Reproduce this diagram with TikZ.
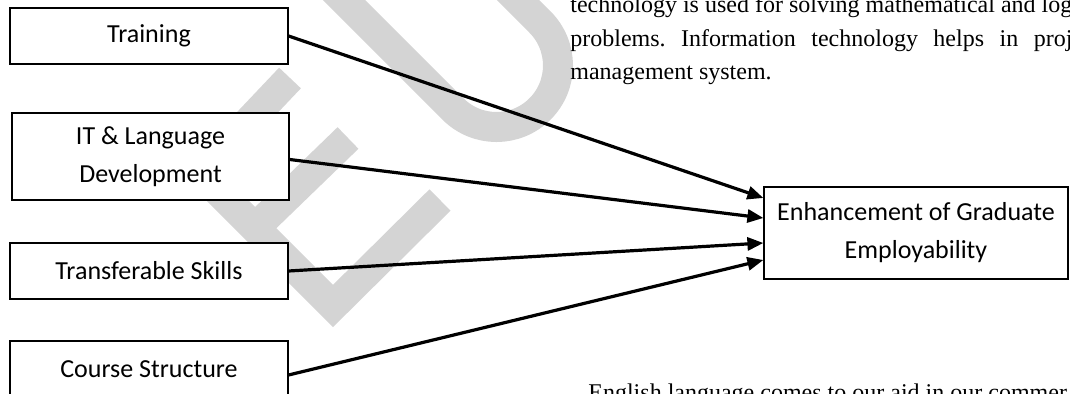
\documentclass[tikz,border=0pt]{standalone}
\usepackage{fontspec}
\setmainfont{Liberation Serif}
\newfontfamily\boxfont{Carlito}
\usetikzlibrary{arrows.meta}
\tikzset{
  factor/.style={draw, fill=white, line width=0.6pt, align=center,
    font=\boxfont\fontsize{13}{19}\selectfont, inner sep=0pt},
  link/.style={line width=1.6pt, -{Triangle[length=8pt,width=6.5pt]}},
  wmark/.style={line width=15pt, draw=black!17, line join=miter},
  para/.style={anchor=base west, inner sep=0pt, font=\fontsize{12}{14}\selectfont}
}
\frenchspacing
\begin{document}
\begin{tikzpicture}[x=0.5pt,y=-0.5pt]
  \useasboundingbox (0,0) rectangle (1070,394);
  \clip (0,0) rectangle (1070,394);
  % watermark
  \draw [wmark] (290,78)--(200,173)--(333,306)--(440,200);
  \draw [wmark] (255,228)--(348,138);
  \draw [wmark] (314,-30)--(453,109) arc[start angle=135,end angle=-45,radius=61.5]--(488,-30);
  % page text
  \node [para] (line1) at (570,13) {technology is used for solving mathematical and log};
  \node [para] (line2) at (570,47) {\makebox[251pt][s]{problems. Information technology helps in proj}};
  \node [para] (line3) at (570,80) {management system.};
  \node [para] (line4) at (588,401) {English language comes to our aid in our commer};
  % factors
  \node [factor, minimum width=139pt, minimum height=28pt] (train) at (149,36) {Training};
  \node [factor, minimum width=138.5pt, minimum height=43.5pt] (itlang) at (150.5,156.5) {IT \& Language\\Development};
  \node [factor, minimum width=139pt, minimum height=28pt] (skills) at (149,271) {Transferable Skills};
  \node [factor, minimum width=139pt, minimum height=28pt] (course) at (149,369) {Course Structure};
  \node [factor, minimum width=152pt, minimum height=46pt] (target) at (916,233) {Enhancement of Graduate\\Employability};
  % links
  \draw [link] (train.east) -- ([yshift=17.5pt]target.west);
  \draw [link] ([yshift=-1.5pt]itlang.east) -- ([yshift=7.5pt]target.west);
  \draw [link] (skills.east) -- ([yshift=-5pt]target.west);
  \draw [link] ([yshift=-3pt]course.east) -- ([yshift=-13.5pt]target.west);
\end{tikzpicture}
\end{document}
